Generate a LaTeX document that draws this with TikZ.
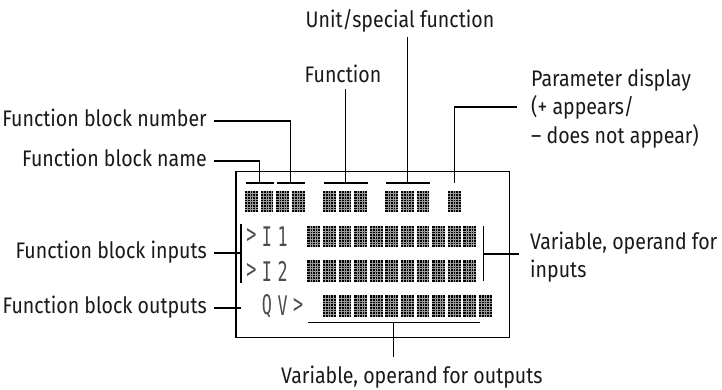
\documentclass[tikz,border=0pt]{standalone}
\usepackage{fontspec}
\setmainfont{Fira Sans}[FakeStretch=0.87]
\newfontfamily\lcdfont{DejaVu Sans Mono}[FakeStretch=0.62]
\usetikzlibrary{positioning}

\tikzset{
  lead/.style={line width=1.2pt, black},
  lbl/.style={font=\fontsize{22.5}{28.5}\selectfont, inner sep=0pt, text=black!90},
  glyph/.style={font=\lcdfont\fontsize{27}{27}\selectfont, inner sep=0pt, text=black!70},
  pics/lcdblock/.style={code={
    \fill[black] (0,0) rectangle (12.7,21.6);
    \foreach \k in {1,...,4} \draw[black!40, line width=0.3pt] (12.7*\k/5,0) -- (12.7*\k/5,21.6);
    \foreach \k in {1,...,7} \draw[black!40, line width=0.3pt] (0,21.6*\k/8) -- (12.7,21.6*\k/8);
  }}
}

\begin{document}
\begin{tikzpicture}[x=1pt, y=-1pt]
\useasboundingbox (0,0) rectangle (722,389);

% display frame
\node[draw, line width=1.2pt, minimum width=273.3pt, minimum height=166pt, inner sep=0pt] (lcd) at (372.65,254.5) {};

% character cells
\foreach \i in {0,1,2,3,5,6,7,9,10,11,13}
  \pic at ({245+15.6*\i},190.6) {lcdblock};
\foreach \r in {1,2}
  \foreach \i in {4,...,14}
    \pic at ({245+15.6*\i},{190.6+34.9*\r}) {lcdblock};
\foreach \i in {5,...,15}
  \pic at ({245+15.6*\i},295.3) {lcdblock};

% dot-matrix characters
\node[glyph] (in1a) at (251.35,236.3) {>};
\node[glyph] (in1b) at (266.95,236.3) {I};
\node[glyph] (in1c) at (282.55,236.3) {1};
\node[glyph] (in2a) at (251.35,271.2) {>};
\node[glyph] (in2b) at (266.95,271.2) {I};
\node[glyph] (in2c) at (282.55,271.2) {2};
\node[glyph] (outa) at (266.95,306.1) {Q};
\node[glyph] (outb) at (282.55,306.1) {V};
\node[glyph] (outc) at (298.15,306.1) {>};

% labels
\node[lbl, anchor=base east] (fbnumber) at (207,126.5) {Function block number};
\node[lbl, anchor=base east] (fbname) at (207,166.5) {Function block name};
\node[lbl, anchor=base east] (fbinputs) at (207,258.5) {Function block inputs};
\node[lbl, anchor=base east] (fboutputs) at (207,313.5) {Function block outputs};
\node[lbl, anchor=base] (func) at (343,82) {Function};
\node[lbl, anchor=base] (unitfn) at (400,27.5) {Unit/special function};
\node[lbl, anchor=base west, align=left] (param) at (531,143) {Parameter display\\(+ appears/\\– does not appear)};
\node[lbl, anchor=base west, align=left] (varin) at (530,277.5) {Variable, operand for\\inputs};
\node[lbl, anchor=base west] (varout) at (281,383) {Variable, operand for outputs};

% underline marks and leader ends
\coordinate (nameL) at (246,183);   \coordinate (nameR) at (273.5,183); \coordinate (nameM) at (259.5,183);
\coordinate (numL) at (277,183);    \coordinate (numR) at (304.5,183);  \coordinate (numM) at (290.3,183);
\coordinate (funcL) at (323.5,183); \coordinate (funcR) at (368,183);   \coordinate (funcM) at (345.3,183);
\coordinate (unitL) at (385.5,183); \coordinate (unitR) at (430,183);   \coordinate (unitM) at (407.6,183);
\coordinate (parM) at (454.2,183);
\coordinate (funcT) at (345.3,89);
\coordinate (unitT) at (407.6,37);
\coordinate (inbrT) at (241,224);   \coordinate (inbrB) at (241,283);
\coordinate (varbrT) at (483.3,226); \coordinate (varbrB) at (483.3,281);
\coordinate (outL) at (308,322.5);  \coordinate (outR) at (480,322.5);  \coordinate (outM) at (393.3,322.5);
\coordinate (outT) at (393.3,357);

\draw[lead] (nameL) -- (nameR);
\draw[lead] (numL) -- (numR);
\draw[lead] (funcL) -- (funcR);
\draw[lead] (unitL) -- (unitR);
\draw[lead] (inbrT) -- (inbrB);
\draw[lead] (varbrT) -- (varbrB);
\draw[lead] (outL) -- (outR);

% leaders
\draw[lead] ([shift={(7,-5.5)}]fbnumber.base east) -| (numM);
\draw[lead] ([shift={(7,-5.5)}]fbname.base east) -| (nameM);
\draw[lead] ([shift={(7,-5.5)}]fbinputs.base east) -- (inbrT |- 253,253);
\draw[lead] ([shift={(7,-5.5)}]fboutputs.base east) -- (241,308);
\draw[lead] (funcT) -- (funcM);
\draw[lead] (unitT) -- (unitM);
\draw[lead] ([xshift=-14pt]param.base west |- 0,107) -| (parM);
\draw[lead] (varbrT |- 254,254) -- (519,254);
\draw[lead] (outM) -- (outT);
\end{tikzpicture}
\end{document}
